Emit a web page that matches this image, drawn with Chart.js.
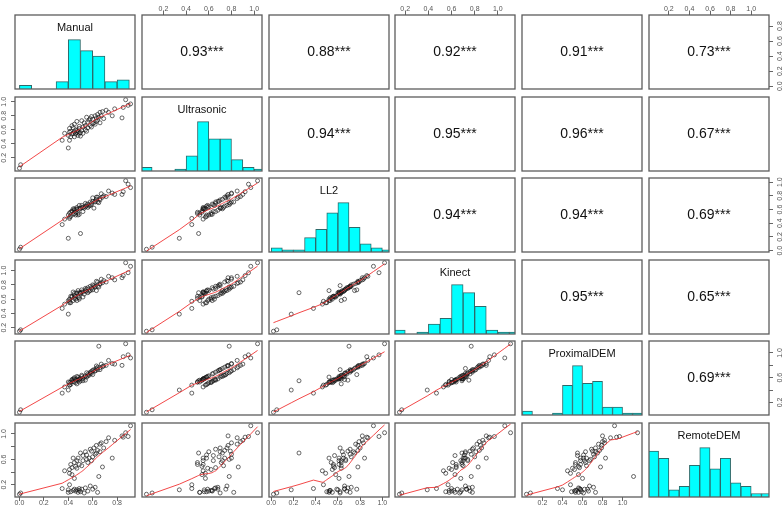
<!DOCTYPE html>
<html>
<head>
<meta charset="utf-8">
<script src="https://cdn.jsdelivr.net/npm/chart.js@4.4.0/dist/chart.umd.min.js"></script>
<style>
  html, body { margin: 0; padding: 0; background: #fff; }
  #wrap { position: relative; width: 784px; height: 512px; overflow: hidden; }
  #wrap canvas { position: absolute; }
</style>
</head>
<body>
<div id="wrap"></div>
<script>
const FONT = '"Liberation Sans", Arial, sans-serif';

const varNames = ['Manual', 'Ultrasonic', 'LL2', 'Kinect', 'ProximalDEM', 'RemoteDEM'];

// one value per sample, same sample order in every array
const manual = [0.00, 0.01, 0.35, 0.37, 0.40, 0.40, 0.41, 0.41, 0.42, 0.42, 0.43, 0.43, 0.44, 0.44, 0.45, 0.45, 0.45, 0.46, 0.46, 0.47,
  0.47, 0.47, 0.48, 0.48, 0.49, 0.49, 0.49, 0.41, 0.50, 0.50, 0.51, 0.51, 0.52, 0.52, 0.53, 0.54, 0.54, 0.55, 0.55, 0.56,
  0.56, 0.57, 0.58, 0.58, 0.59, 0.59, 0.60, 0.60, 0.61, 0.62, 0.62, 0.63, 0.63, 0.64, 0.64, 0.65, 0.66, 0.66, 0.67, 0.68,
  0.69, 0.71, 0.73, 0.76, 0.78, 0.84, 0.85, 0.87, 0.89, 0.91];
const ultrasonic = [0.05, 0.10, 0.45, 0.55, 0.34, 0.52, 0.62, 0.45, 0.50, 0.58, 0.66, 0.54, 0.55, 0.63, 0.50, 0.68, 0.57, 0.54, 0.60, 0.72,
  0.56, 0.59, 0.52, 0.58, 0.65, 0.55, 0.62, 0.57, 0.51, 0.56, 0.73, 0.59, 0.64, 0.55, 0.70, 0.60, 0.66, 0.78, 0.58, 0.71,
  0.63, 0.74, 0.66, 0.76, 0.64, 0.79, 0.69, 0.75, 0.70, 0.80, 0.68, 0.77, 0.72, 0.82, 0.74, 0.78, 0.85, 0.70, 0.80, 0.86,
  0.76, 0.88, 0.85, 0.80, 0.90, 0.77, 0.92, 1.03, 0.95, 0.97];
const ll2 = [0.02, 0.05, 0.38, 0.46, 0.18, 0.52, 0.55, 0.47, 0.56, 0.50, 0.57, 0.58, 0.61, 0.53, 0.54, 0.59, 0.61, 0.56, 0.52, 0.61,
  0.60, 0.63, 0.55, 0.52, 0.66, 0.61, 0.53, 0.49, 0.25, 0.62, 0.63, 0.66, 0.57, 0.63, 0.62, 0.64, 0.69, 0.67, 0.65, 0.63,
  0.68, 0.65, 0.71, 0.66, 0.67, 0.69, 0.72, 0.77, 0.62, 0.71, 0.72, 0.78, 0.75, 0.71, 0.78, 0.70, 0.76, 0.74, 0.83, 0.78,
  0.80, 0.79, 0.87, 0.84, 0.82, 0.82, 0.86, 1.02, 0.97, 0.92];
const kinect = [0.15, 0.17, 0.47, 0.53, 0.39, 0.58, 0.60, 0.57, 0.64, 0.55, 0.64, 0.63, 0.70, 0.58, 0.61, 0.65, 0.68, 0.64, 0.60, 0.68,
  0.69, 0.58, 0.63, 0.72, 0.60, 0.69, 0.62, 0.55, 0.69, 0.68, 0.70, 0.73, 0.63, 0.70, 0.67, 0.72, 0.75, 0.74, 0.71, 0.69,
  0.76, 0.71, 0.78, 0.72, 0.74, 0.76, 0.80, 0.73, 0.79, 0.77, 0.78, 0.85, 0.72, 0.78, 0.84, 0.77, 0.82, 0.81, 0.88, 0.83,
  0.86, 0.84, 0.92, 0.90, 0.87, 0.90, 0.93, 1.11, 0.97, 1.06];
const proximalDEM = [0.04, 0.08, 0.35, 0.45, 0.40, 0.53, 0.52, 0.48, 0.53, 0.49, 0.57, 0.56, 0.58, 0.54, 0.53, 0.58, 0.60, 0.56, 0.52, 0.62,
  0.58, 0.50, 0.56, 0.61, 0.57, 0.58, 0.53, 0.48, 0.55, 0.59, 0.64, 0.62, 0.55, 0.58, 0.61, 0.63, 0.56, 0.68, 0.61, 0.63,
  0.66, 0.64, 0.69, 0.67, 0.67, 0.70, 0.72, 0.65, 0.73, 0.71, 0.71, 0.79, 0.75, 0.73, 0.77, 1.11, 0.76, 0.73, 0.82, 0.78,
  0.79, 0.80, 0.88, 0.83, 0.82, 0.80, 0.94, 1.15, 0.97, 0.92];
const remoteDEM = [0.05, 0.07, 0.14, 0.42, 0.12, 0.08, 0.44, 0.20, 0.52, 0.09, 0.47, 0.36, 0.62, 0.11, 0.55, 0.13, 0.30, 0.49, 0.10, 0.58,
  0.12, 0.46, 0.08, 0.62, 0.14, 0.52, 0.11, 0.38, 0.70, 0.09, 0.50, 0.13, 0.66, 0.58, 0.07, 0.72, 0.15, 0.60, 0.67, 0.55,
  0.10, 0.62, 0.76, 0.18, 0.58, 0.73, 0.64, 0.13, 0.78, 0.68, 0.16, 0.82, 0.70, 0.08, 0.74, 0.33, 0.84, 0.72, 0.86, 0.48,
  0.78, 0.88, 0.94, 0.62, 0.90, 0.97, 0.95, 1.02, 0.96, 1.13];

// histogram bar heights (counts), bins of width 0.1 starting at histStart
const manualHist = [2, 0, 0, 4, 27, 21, 18, 4, 5];
const ultrasonicHist = [2, 0, 0, 1, 8, 26, 17, 17, 6, 2, 1];
const ll2Hist = [2, 1, 1, 7, 11, 19, 24, 12, 4, 2, 1];
const kinectHist = [2, 0, 1, 5, 8, 25, 21, 14, 2, 1, 1];
const proximalHist = [2, 0, 0, 1, 15, 25, 16, 17, 4, 4, 1, 1];
const remoteHist = [13, 11, 2, 3, 9, 14, 8, 11, 4, 3, 1, 1];
const histStart = [0.0, 0.0, 0.0, 0.1, 0.0, 0.0];
const binWidth = 0.1;

// correlations shown above the diagonal, row by row
const corrManual = [0.93, 0.88, 0.92, 0.91, 0.73];
const corrUltrasonic = [0.94, 0.95, 0.96, 0.67];
const corrLL2 = [0.94, 0.94, 0.69];
const corrKinect = [0.95, 0.65];
const corrProximal = [0.69];

// outer axis ticks
const ticksManual = [0.0, 0.2, 0.4, 0.6, 0.8];
const ticksUltrasonic = [0.2, 0.4, 0.6, 0.8, 1.0];
const ticksLL2 = [0.0, 0.2, 0.4, 0.6, 0.8, 1.0];
const ticksKinect = [0.2, 0.4, 0.6, 0.8, 1.0];
const ticksProximal = [0.2, 0.4, 0.6, 0.8, 1.0];
const ticksRemote = [0.2, 0.4, 0.6, 0.8, 1.0];
const labelsProximalY = [0.2, 0.6, 1.0];
const labelsRemoteY = [0.2, 0.6, 1.0];

const allVars = [manual, ultrasonic, ll2, kinect, proximalDEM, remoteDEM];
const allHists = [manualHist, ultrasonicHist, ll2Hist, kinectHist, proximalHist, remoteHist];
const allCorr = [corrManual, corrUltrasonic, corrLL2, corrKinect, corrProximal];
const allTicks = [ticksManual, ticksUltrasonic, ticksLL2, ticksKinect, ticksProximal, ticksRemote];
const yLabelSets = [null, null, null, null, labelsProximalY, labelsRemoteY];

// layout of the 6x6 grid
const GRID_LEFT = 15, GRID_TOP = 15, STEP_X = 126.8, STEP_Y = 81.6, PW = 120, PH = 74, M = 15;

function paddedRange(arr) {
  const lo = Math.min(...arr), hi = Math.max(...arr);
  const pad = (hi - lo) * 0.04;
  return [lo - pad, hi + pad];
}

// R style lowess (f = 2/3, 3 robustness iterations)
function lowess(xIn, yIn, f = 2 / 3, iter = 3) {
  const order = xIn.map((_, k) => k).sort((a, b) => xIn[a] - xIn[b]);
  const x = order.map(k => xIn[k]), y = order.map(k => yIn[k]);
  const n = x.length;
  const ns = Math.max(2, Math.min(n, Math.floor(f * n + 1e-7)));
  const range = x[n - 1] - x[0];
  let rw = new Array(n).fill(1);
  let fit = new Array(n).fill(0);
  for (let it = 0; it <= iter; it++) {
    let nleft = 0, nright = ns - 1;
    for (let i = 0; i < n; i++) {
      while (nright < n - 1 && x[i] - x[nleft] > x[nright + 1] - x[i]) { nleft++; nright++; }
      const h = Math.max(x[i] - x[nleft], x[nright] - x[i]);
      const h9 = 0.999 * h, h1 = 0.001 * h;
      const w = new Array(n).fill(0);
      let sw = 0;
      for (let j = 0; j < n; j++) {
        const d = Math.abs(x[j] - x[i]);
        if (d <= h9) {
          const wj = (d <= h1 ? 1 : Math.pow(1 - Math.pow(d / h, 3), 3)) * rw[j];
          w[j] = wj; sw += wj;
        }
      }
      if (sw <= 0) { fit[i] = y[i]; continue; }
      for (let j = 0; j < n; j++) w[j] /= sw;
      let xb = 0;
      for (let j = 0; j < n; j++) xb += w[j] * x[j];
      let c = 0;
      for (let j = 0; j < n; j++) c += w[j] * (x[j] - xb) * (x[j] - xb);
      let ys = 0;
      if (Math.sqrt(c) > 0.001 * range) {
        const hh = (x[i] - xb) / c;
        for (let j = 0; j < n; j++) ys += w[j] * (hh * (x[j] - xb) + 1) * y[j];
      } else {
        for (let j = 0; j < n; j++) ys += w[j] * y[j];
      }
      fit[i] = ys;
    }
    if (it === iter) break;
    const res = y.map((v, k) => v - fit[k]);
    const absRes = res.map(Math.abs).sort((a, b) => a - b);
    const med = n % 2 ? absRes[(n - 1) / 2] : (absRes[n / 2 - 1] + absRes[n / 2]) / 2;
    const cmad = 6 * med;
    if (cmad < 1e-7) break;
    rw = res.map(r => {
      const a = Math.abs(r);
      if (a <= 0.001 * cmad) return 1;
      if (a <= 0.999 * cmad) return Math.pow(1 - (r / cmad) * (r / cmad), 2);
      return 0;
    });
  }
  return x.map((v, k) => ({ x: v, y: fit[k] }));
}

const framePlugin = {
  id: 'panelFrame',
  afterDraw(chart) {
    const { ctx, chartArea: a } = chart;
    ctx.save();
    ctx.strokeStyle = '#5c5c5c';
    ctx.lineWidth = 1.3;
    ctx.strokeRect(a.left, a.top, a.right - a.left, a.bottom - a.top);
    ctx.restore();
  }
};

const textPlugin = {
  id: 'panelText',
  afterDraw(chart, args, opts) {
    if (!opts.text) return;
    const { ctx, chartArea: a } = chart;
    ctx.save();
    ctx.font = opts.size + 'px ' + FONT;
    ctx.fillStyle = '#111';
    ctx.textAlign = 'center';
    ctx.textBaseline = 'middle';
    ctx.fillText(opts.text, (a.left + a.right) / 2, a.top + (a.bottom - a.top) * opts.pos);
    ctx.restore();
  }
};

function axisCfg(horizontal, range, show, position, tickVals, labelVals) {
  return {
    type: 'linear',
    position: position,
    min: range[0],
    max: range[1],
    display: show,
    offset: false,
    grid: { drawOnChartArea: false, drawTicks: true, tickLength: 4, color: '#666', lineWidth: 1, offset: false },
    border: { display: false },
    ticks: {
      autoSkip: false,
      font: { size: 7, family: FONT },
      color: '#555',
      padding: 2,
      minRotation: horizontal ? 0 : 90,
      maxRotation: horizontal ? 0 : 90,
      crossAlign: 'center',
      callback: v => (!labelVals || labelVals.some(l => Math.abs(l - v) < 1e-6)) ? v.toFixed(1) : ''
    },
    afterBuildTicks: s => { s.ticks = tickVals.map(v => ({ value: v })); },
    afterFit: s => {
      if (!show) return;
      if (horizontal) s.height = M; else s.width = M;
    }
  };
}

const wrap = document.getElementById('wrap');
const ranges = allVars.map(paddedRange);

for (let i = 0; i < 6; i++) {
  for (let j = 0; j < 6; j++) {
    const left = Math.round(GRID_LEFT + j * STEP_X);
    const top = Math.round(GRID_TOP + i * STEP_Y);
    const canvas = document.createElement('canvas');
    canvas.width = PW + 2 * M;
    canvas.height = PH + 2 * M;
    canvas.style.left = (left - M) + 'px';
    canvas.style.top = (top - M) + 'px';
    canvas.style.width = (PW + 2 * M) + 'px';
    canvas.style.height = (PH + 2 * M) + 'px';
    wrap.appendChild(canvas);

    const showTop = i === 0 && j % 2 === 1;
    const showBottom = i === 5 && j % 2 === 0;
    const showLeft = j === 0 && i % 2 === 1;
    const showRight = j === 5 && i % 2 === 0;

    const xScale = axisCfg(true, ranges[j], showTop || showBottom, showTop ? 'top' : 'bottom', allTicks[j], null);
    let yScale, datasets = [], type = 'scatter', text = null;

    if (i === j) {
      const counts = allHists[i];
      type = 'bar';
      yScale = { type: 'linear', display: false, min: 0, max: 1.5 * Math.max(...counts) };
      datasets = [{
        data: counts.map((c, k) => ({ x: histStart[i] + binWidth * (k + 0.5), y: c })),
        backgroundColor: '#00ffff',
        borderColor: '#2d6a6a',
        borderWidth: 1,
        barPercentage: 1,
        categoryPercentage: 1
      }];
      text = { text: varNames[i], size: 11, pos: 0.17 };
    } else {
      yScale = axisCfg(false, ranges[i], showLeft || showRight, showRight ? 'right' : 'left', allTicks[i], yLabelSets[i]);
      if (i > j) {
        datasets = [
          {
            data: allVars[j].map((v, k) => ({ x: v, y: allVars[i][k] })),
            pointRadius: 2,
            pointBorderWidth: 0.8,
            pointBorderColor: 'rgba(20,20,20,0.8)',
            pointBackgroundColor: 'rgba(0,0,0,0)',
            order: 1
          },
          {
            data: lowess(allVars[j], allVars[i]),
            showLine: true,
            borderColor: 'rgba(240,40,40,0.85)',
            borderWidth: 1,
            pointRadius: 0,
            tension: 0,
            order: 0
          }
        ];
      } else {
        const r = allCorr[i][j - i - 1];
        text = { text: r.toFixed(2) + '***', size: 14, pos: 0.5 };
      }
    }

    new Chart(canvas, {
      type: type,
      data: { datasets: datasets },
      options: {
        responsive: false,
        animation: false,
        events: [],
        layout: { padding: { left: showLeft ? 0 : M, right: showRight ? 0 : M, top: showTop ? 0 : M, bottom: showBottom ? 0 : M } },
        scales: { x: xScale, y: yScale },
        plugins: { legend: { display: false }, tooltip: { enabled: false }, panelText: text || {} }
      },
      plugins: [framePlugin, textPlugin]
    });
  }
}
</script>
</body>
</html>
